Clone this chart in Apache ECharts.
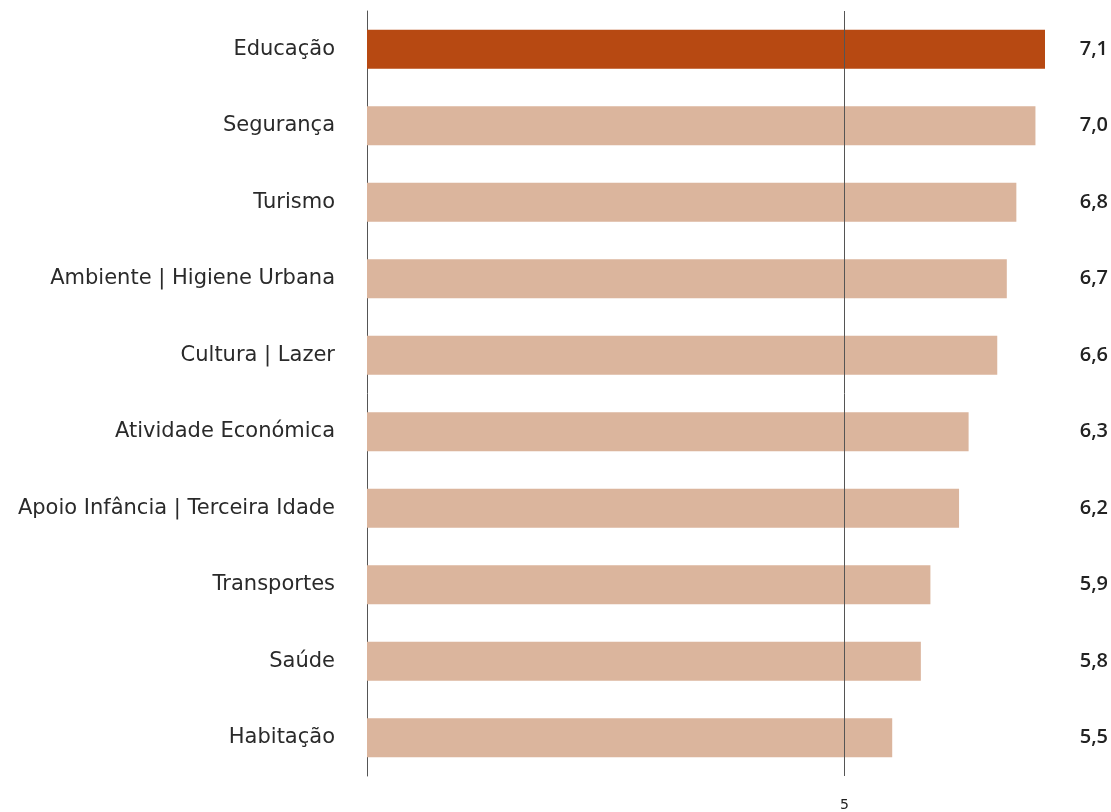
<!DOCTYPE html>
<html>
<head>
<meta charset="utf-8">
<script src="https://cdn.jsdelivr.net/npm/echarts@6/dist/echarts.min.js"></script>
<style>html,body{margin:0;padding:0;background:#fff}#c{width:1111px;height:812px}</style>
</head>
<body>
<div id="c"></div>
<script>
const categories = ["Educação","Segurança","Turismo","Ambiente | Higiene Urbana","Cultura | Lazer","Atividade Económica","Apoio Infância | Terceira Idade","Transportes","Saúde","Habitação"];
const values = [7.1,7.0,6.8,6.7,6.6,6.3,6.2,5.9,5.8,5.5];
const valueLabels = ["7,1","7,0","6,8","6,7","6,6","6,3","6,2","5,9","5,8","5,5"];
const tickLabels = {5: "5"};
const highlightColor = "#B74912";
const baseColor = "#DBB59D";

const chart = echarts.init(document.getElementById('c'));
const font = "'DejaVu Sans', 'Noto Sans', sans-serif";
const valFont = "'Open Sans', 'Noto Sans', sans-serif";
chart.setOption({
  animation: false,
  grid: {left: 367, right: 66, top: 11, bottom: 34},
  xAxis: {
    type: 'value', min: 0, max: 7.1, interval: 5,
    axisLine: {show: false}, axisTick: {show: false},
    splitLine: {show: false},
    axisLabel: {
      showMinLabel: false, showMaxLabel: false, margin: 22,
      color: '#222', fontSize: 14, fontFamily: "'DejaVu Sans', sans-serif",
      formatter: v => tickLabels[v] || ''
    }
  },
  yAxis: [{
    type: 'category', data: categories, inverse: true,
    axisLine: {show: true, lineStyle: {color: '#555', width: 1}},
    axisTick: {show: false},
    axisLabel: {margin: 32, color: '#2a2a2a', fontSize: 21, fontFamily: font, padding: [4, 0, 0, 0]}
  }, {
    type: 'category', data: valueLabels, inverse: true, position: 'right',
    axisLine: {show: false}, axisTick: {show: false},
    axisLabel: {margin: 63, align: 'right', color: '#222', fontSize: 20, fontWeight: 600, fontFamily: valFont, padding: [4, 0, 0, 0]}
  }],
  series: [{
    type: 'bar', yAxisIndex: 0, barWidth: 39,
    data: values.map((v, i) => ({value: v, itemStyle: {color: i === 0 ? highlightColor : baseColor}})),
    markLine: {
      silent: true, symbol: ['none','none'], label: {show: false},
      lineStyle: {color: '#555', width: 1, type: 'solid'},
      data: [{xAxis: 5}]
    }
  }]
});
</script>
</body>
</html>
